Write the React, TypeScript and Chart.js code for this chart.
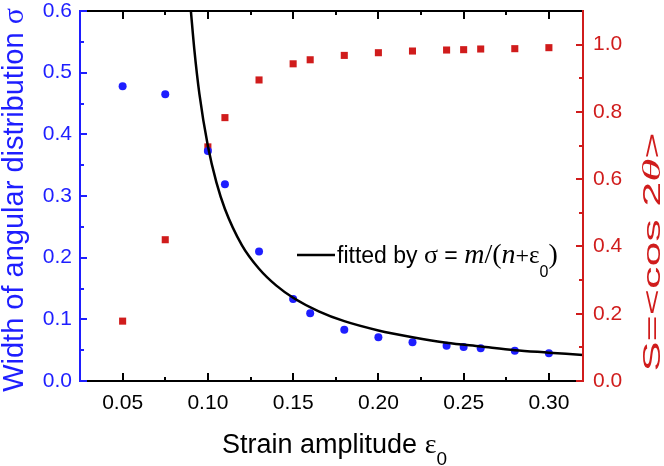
import React, { useEffect, useRef } from 'react';
import { Chart, registerables } from 'chart.js';

Chart.register(...registerables);

// ---- data ----
const strain = [0.05, 0.075, 0.10, 0.11, 0.13, 0.15, 0.16, 0.18, 0.20, 0.22, 0.24, 0.25, 0.26, 0.28, 0.30];
const sigmaWidth = [0.478, 0.465, 0.373, 0.319, 0.210, 0.133, 0.110, 0.083, 0.071, 0.063, 0.057, 0.055, 0.053, 0.049, 0.045];
const orderS = [0.178, 0.420, 0.696, 0.783, 0.895, 0.943, 0.955, 0.968, 0.976, 0.981, 0.984, 0.985, 0.987, 0.988, 0.991];

// fitted curve
const fitStrain = [0.090, 0.092, 0.095, 0.10, 0.105, 0.11, 0.12, 0.13, 0.14, 0.15, 0.165, 0.18, 0.20, 0.22, 0.24, 0.26, 0.28, 0.30, 0.32];
const fitSigma = [0.601, 0.539, 0.466, 0.381, 0.322, 0.279, 0.220, 0.182, 0.155, 0.135, 0.113, 0.097, 0.082, 0.071, 0.062, 0.056, 0.050, 0.046, 0.042];

const xTicks = [0.05, 0.10, 0.15, 0.20, 0.25, 0.30];
const xMinor = [0.075, 0.125, 0.175, 0.225, 0.275];
const leftTicks = [0, 0.1, 0.2, 0.3, 0.4, 0.5, 0.6];
const leftMinor = [0.05, 0.15, 0.25, 0.35, 0.45, 0.55];
const rightTicks = [0, 0.2, 0.4, 0.6, 0.8, 1.0];
const rightMinor = [0.1, 0.3, 0.5, 0.7, 0.9];

const BLUE = '#1e1eff';
const RED = '#d01c1c';
const SANS = '"Liberation Sans", Arial, sans-serif';
const SERIF = '"Liberation Serif", "Times New Roman", serif';

type Seg = { t: string; f: string; dy?: number; adv?: boolean };

function segWidth(ctx: CanvasRenderingContext2D, segs: Seg[]) {
  let w = 0;
  for (const s of segs) {
    ctx.font = s.f;
    w += ctx.measureText(s.t).width;
  }
  return w;
}
function drawSegs(ctx: CanvasRenderingContext2D, segs: Seg[], x: number, y: number) {
  let cx = x;
  for (const s of segs) {
    ctx.font = s.f;
    ctx.fillText(s.t, cx, y + (s.dy || 0));
    cx += ctx.measureText(s.t).width;
  }
}

const noPad = (s: any) => {
  s.paddingTop = 0;
  s.paddingBottom = 0;
  s.paddingLeft = 0;
  s.paddingRight = 0;
};

const decor = {
  id: 'decor',
  afterDatasetsDraw(chart: any) {
    const ctx: CanvasRenderingContext2D = chart.ctx;
    const { left, right, top, bottom } = chart.chartArea;
    const xs = chart.scales.x, yl = chart.scales.y, yr = chart.scales.y2;
    ctx.save();
    ctx.lineWidth = 2;
    ctx.lineCap = 'butt';
    ctx.strokeStyle = '#000';
    ctx.beginPath();
    ctx.moveTo(left, top); ctx.lineTo(right, top);
    ctx.moveTo(left, bottom); ctx.lineTo(right, bottom);
    for (const v of xTicks) {
      const p = Math.round(xs.getPixelForValue(v));
      ctx.moveTo(p, bottom); ctx.lineTo(p, bottom - 8);
      ctx.moveTo(p, top); ctx.lineTo(p, top + 8);
    }
    for (const v of xMinor) {
      const p = Math.round(xs.getPixelForValue(v));
      ctx.moveTo(p, bottom); ctx.lineTo(p, bottom - 4);
      ctx.moveTo(p, top); ctx.lineTo(p, top + 4);
    }
    ctx.stroke();
    ctx.strokeStyle = BLUE;
    ctx.beginPath();
    ctx.moveTo(left, top - 1); ctx.lineTo(left, bottom + 1);
    for (const v of leftTicks) {
      const p = Math.round(yl.getPixelForValue(v));
      ctx.moveTo(left, p); ctx.lineTo(left + 7, p);
    }
    for (const v of leftMinor) {
      const p = Math.round(yl.getPixelForValue(v));
      ctx.moveTo(left, p); ctx.lineTo(left + 4, p);
    }
    ctx.stroke();
    ctx.strokeStyle = RED;
    ctx.beginPath();
    ctx.moveTo(right, top - 1); ctx.lineTo(right, bottom + 1);
    for (const v of rightTicks) {
      const p = Math.round(yr.getPixelForValue(v));
      ctx.moveTo(right, p); ctx.lineTo(right - 7, p);
    }
    for (const v of rightMinor) {
      const p = Math.round(yr.getPixelForValue(v));
      ctx.moveTo(right, p); ctx.lineTo(right - 4, p);
    }
    ctx.stroke();
    ctx.restore();
  },
  afterDraw(chart: any) {
    const ctx: CanvasRenderingContext2D = chart.ctx;
    const { left, right } = chart.chartArea;
    ctx.save();
    ctx.textBaseline = 'alphabetic';
    ctx.textAlign = 'left';

    // x title
    ctx.fillStyle = '#000';
    const xt: Seg[] = [
      { t: 'Strain amplitude ', f: `27px ${SANS}` },
      { t: 'ε', f: `28px ${SERIF}` },
      { t: '0', f: `19px ${SANS}`, dy: 12 },
    ];
    const xw = segWidth(ctx, xt);
    drawSegs(ctx, xt, (left + right) / 2 - xw / 2 + 3, 453);

    // left title
    ctx.fillStyle = BLUE;
    const lt: Seg[] = [
      { t: 'Width of angular distribution ', f: `29px ${SANS}` },
      { t: 'σ', f: `30px ${SERIF}` },
    ];
    const lw = segWidth(ctx, lt);
    ctx.save();
    ctx.translate(23, 200);
    ctx.rotate(-Math.PI / 2);
    drawSegs(ctx, lt, -lw / 2, 0);
    ctx.restore();

    // right title (stretched along its baseline as in the reference)
    ctx.fillStyle = RED;
    const rt: Seg[] = [
      { t: 'S=<cos 2', f: `24px ${SANS}` },
      { t: 'θ', f: `italic 25px ${SERIF}` },
      { t: '>', f: `24px ${SANS}` },
    ];
    const rw = segWidth(ctx, rt);
    const stretch = 239 / rw;
    ctx.save();
    ctx.translate(660, 252);
    ctx.rotate(-Math.PI / 2);
    ctx.scale(stretch, 1);
    drawSegs(ctx, rt, -rw / 2, 0);
    ctx.restore();

    // legend
    ctx.strokeStyle = '#000';
    ctx.lineWidth = 2.5;
    ctx.beginPath();
    ctx.moveTo(297, 255); ctx.lineTo(335, 255);
    ctx.stroke();
    ctx.fillStyle = '#000';
    const lg: Seg[] = [
      { t: 'fitted by ', f: `23px ${SANS}` },
      { t: 'σ', f: `26px ${SERIF}` },
      { t: ' = ', f: `23px ${SANS}` },
      { t: 'm', f: `italic 28px ${SERIF}` },
      { t: '/(', f: `28px ${SERIF}` },
      { t: 'n', f: `italic 28px ${SERIF}` },
      { t: '+', f: `24px ${SERIF}` },
      { t: 'ε', f: `25px ${SERIF}` },
      { t: '0', f: `16px ${SANS}`, dy: 14 },
      { t: ')', f: `28px ${SERIF}` },
    ];
    drawSegs(ctx, lg, 337, 263);
    ctx.restore();
  },
};

export default function App() {
  const ref = useRef<HTMLCanvasElement | null>(null);
  useEffect(() => {
    if (!ref.current) return;
    const chart = new Chart(ref.current, {
      type: 'scatter',
      data: {
        datasets: [
          {
            label: 'fit',
            type: 'line',
            data: fitStrain.map((x, i) => ({ x, y: fitSigma[i] })),
            borderColor: '#000',
            borderWidth: 2.5,
            pointRadius: 0,
            cubicInterpolationMode: 'monotone',
            fill: false,
            yAxisID: 'y',
          } as any,
          {
            label: 'sigma',
            data: strain.map((x, i) => ({ x, y: sigmaWidth[i] })),
            backgroundColor: BLUE,
            borderColor: BLUE,
            borderWidth: 0,
            pointRadius: 4,
            pointStyle: 'circle',
            yAxisID: 'y',
          },
          {
            label: 'S',
            data: strain.map((x, i) => ({ x, y: orderS[i] })),
            backgroundColor: RED,
            borderColor: RED,
            borderWidth: 0,
            pointRadius: 5,
            pointStyle: 'rect',
            yAxisID: 'y2',
          },
        ],
      },
      options: {
        responsive: false,
        animation: false,
        layout: { padding: { top: 11, left: 0, right: 0, bottom: 0 } },
        plugins: { legend: { display: false }, tooltip: { enabled: false } },
        scales: {
          x: {
            type: 'linear',
            position: 'bottom',
            min: 0.025,
            max: 0.32,
            afterBuildTicks: (s: any) => { s.ticks = xTicks.map((v) => ({ value: v })); },
            afterFit: (s: any) => { s.height = 85; noPad(s); },
            grid: { display: false, drawTicks: false },
            border: { display: false },
            ticks: {
              color: '#000',
              font: { family: SANS, size: 21, lineHeight: 1 },
              padding: 12,
              maxRotation: 0,
              autoSkip: false,
              callback: (v: any) => Number(v).toFixed(2),
            },
          },
          y: {
            type: 'linear',
            position: 'left',
            min: 0,
            max: 0.6,
            afterBuildTicks: (s: any) => { s.ticks = leftTicks.map((v) => ({ value: v })); },
            afterFit: (s: any) => { s.width = 80; noPad(s); },
            grid: { display: false, drawTicks: false },
            border: { display: false },
            ticks: {
              color: BLUE,
              font: { family: SANS, size: 21, lineHeight: 1 },
              padding: 8,
              autoSkip: false,
              callback: (v: any) => Number(v).toFixed(1),
            },
          },
          y2: {
            type: 'linear',
            position: 'right',
            min: 0,
            max: 1.1,
            afterBuildTicks: (s: any) => { s.ticks = rightTicks.map((v) => ({ value: v })); },
            afterFit: (s: any) => { s.width = 81; noPad(s); },
            grid: { display: false, drawTicks: false },
            border: { display: false },
            ticks: {
              color: RED,
              font: { family: SANS, size: 21, lineHeight: 1 },
              padding: 10,
              autoSkip: false,
              callback: (v: any) => Number(v).toFixed(1),
            },
          },
        },
      },
      plugins: [decor],
    });
    return () => chart.destroy();
  }, []);

  return (
    <div style={{ position: 'fixed', left: 0, top: 0, width: 664, height: 466, background: '#fff' }}>
      <canvas ref={ref} width={664} height={466} style={{ display: 'block' }} />
    </div>
  );
}
